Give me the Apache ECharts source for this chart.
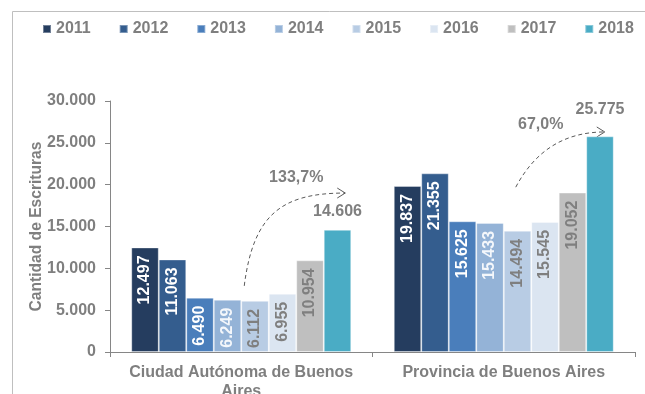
<!DOCTYPE html>
<html>
<head>
<meta charset="utf-8">
<script src="https://cdn.jsdelivr.net/npm/echarts@6/dist/echarts.min.js"></script>
<style>
  html, body { margin: 0; padding: 0; background: #ffffff; }
  #chart { width: 645px; height: 394px; }
</style>
</head>
<body>
<div id="chart"></div>
<script>
// Escrituras por jurisdicción, 2011-2018
const years = ['2011', '2012', '2013', '2014', '2015', '2016', '2017', '2018'];
const regions = ['Ciudad Autónoma de Buenos\nAires', 'Provincia de Buenos Aires'];
const cabaValues = [12497, 11063, 6490, 6249, 6112, 6955, 10954, 14606];
const pbaValues = [19837, 21355, 15625, 15433, 14494, 15545, 19052, 25775];
const growthLabels = ['133,7%', '67,0%'];
const yTicks = { min: 0, max: 30000, interval: 5000 };

const barColors = ['#253d5f', '#345d8e', '#4a7ebb', '#94b3d7', '#b8cce4', '#dbe5f1', '#bfbfbf', '#4aacc5'];
const labelColors = ['#ffffff', '#ffffff', '#ffffff', '#f4f7fb', '#7f7f7f', '#7f7f7f', '#7f7f7f', '#7f7f7f'];
const grey = '#7f7f7f';
const axisGrey = '#868686';
const font = 'Liberation Sans, Arial, sans-serif';

function fmt(v) {
  return String(Math.round(v)).replace(/\B(?=(\d{3})+(?!\d))/g, '.');
}

const series = years.map(function (y, i) {
  const last = i === years.length - 1;
  const data = [cabaValues[i], pbaValues[i]].map(function (v, k) {
    const item = { value: v };
    if (last) item.label = { distance: k === 0 ? 10 : 19 };
    return item;
  });
  return {
    name: y,
    type: 'bar',
    data: data,
    barGap: '0%',
    barCategoryGap: '16.2%',
    itemStyle: { color: barColors[i], borderColor: 'rgba(255,255,255,0.35)', borderWidth: 1 },
    label: last ? {
      show: true, position: 'top', color: grey,
      fontFamily: font, fontWeight: 'bold', fontSize: 16,
      formatter: function (p) { return fmt(p.value); }
    } : {
      show: true, position: 'insideTop', rotate: 90, distance: 8,
      align: 'right', verticalAlign: 'middle', color: labelColors[i],
      fontFamily: font, fontWeight: 'bold', fontSize: 16,
      formatter: function (p) { return fmt(p.value); }
    },
    emphasis: { disabled: true },
    animation: false
  };
});

const chart = echarts.init(document.getElementById('chart'), null, { renderer: 'canvas' });

chart.setOption({
  animation: false,
  textStyle: { fontFamily: font },
  legend: {
    data: years,
    left: 42, top: 21, padding: 0,
    icon: 'rect', itemWidth: 8, itemHeight: 8, itemGap: 28,
    textStyle: { color: grey, fontFamily: font, fontWeight: 'bold', fontSize: 16 }
  },
  grid: { left: 110, right: 10, top: 101, bottom: 42, containLabel: false, outerBoundsMode: 'none' },
  xAxis: {
    type: 'category',
    data: regions,
    axisLine: { lineStyle: { color: axisGrey, width: 1 } },
    axisTick: { show: true, length: 5, lineStyle: { color: axisGrey } },
    axisLabel: {
      color: grey, fontFamily: font, fontWeight: 'bold', fontSize: 16,
      margin: 11, lineHeight: 19, interval: 0
    }
  },
  yAxis: {
    type: 'value',
    min: yTicks.min, max: yTicks.max, interval: yTicks.interval,
    name: 'Cantidad de Escrituras',
    nameLocation: 'middle', nameRotate: 90, nameGap: 65, nameMoveOverlap: false,
    nameTextStyle: { color: grey, fontFamily: font, fontWeight: 'bold', fontSize: 15.6 },
    axisLine: { show: true, lineStyle: { color: axisGrey, width: 1 } },
    axisTick: { show: true, length: 5, lineStyle: { color: axisGrey } },
    splitLine: { show: false },
    axisLabel: {
      color: grey, fontFamily: font, fontWeight: 'bold', fontSize: 16, margin: 14,
      formatter: function (v) { return fmt(v); }
    }
  },
  series: series
});

// Growth arrows between 2013 and 2018, anchored to each category center
function px(cat, value) { return chart.convertToPixel({ gridIndex: 0 }, [cat, value]); }

const arrowSpecs = [
  { cat: 0, start: [3, 7900], c1: [12, 16400], c2: [40, 19000], end: [104, 19000], text: [55, 20900] },
  { cat: 1, start: [12, 19700], c1: [32, 24200], c2: [62, 26300], end: [101, 26300], text: [37, 27130] }
];

const graphics = [{
  type: 'rect', silent: true, z: -1,
  shape: { x: 12.5, y: 11.5, width: 700, height: 450 },
  style: { fill: 'none', stroke: '#bfbfbf', lineWidth: 1 }
}];

arrowSpecs.forEach(function (a, i) {
  const cx = px(a.cat, 0)[0];
  const P = function (p) { return [cx + p[0], px(a.cat, p[1])[1]]; };
  const s = P(a.start), c1 = P(a.c1), c2 = P(a.c2), e = P(a.end), t = P(a.text);
  graphics.push({
    type: 'bezierCurve', silent: true,
    shape: { x1: s[0], y1: s[1], cpx1: c1[0], cpy1: c1[1], cpx2: c2[0], cpy2: c2[1], x2: e[0], y2: e[1] },
    style: { stroke: '#595959', lineWidth: 1, lineDash: [4, 3], fill: 'none' }
  });
  graphics.push({
    type: 'polyline', silent: true,
    shape: { points: [[e[0] - 8, e[1] - 5], [e[0], e[1]], [e[0] - 8, e[1] + 5]] },
    style: { stroke: '#595959', lineWidth: 1, fill: 'none' }
  });
  graphics.push({
    type: 'text', silent: true,
    x: t[0], y: t[1],
    style: {
      text: growthLabels[i], fill: grey, font: 'bold 16px ' + font,
      align: 'center', verticalAlign: 'middle'
    }
  });
});

chart.setOption({ graphic: graphics });
</script>
</body>
</html>
